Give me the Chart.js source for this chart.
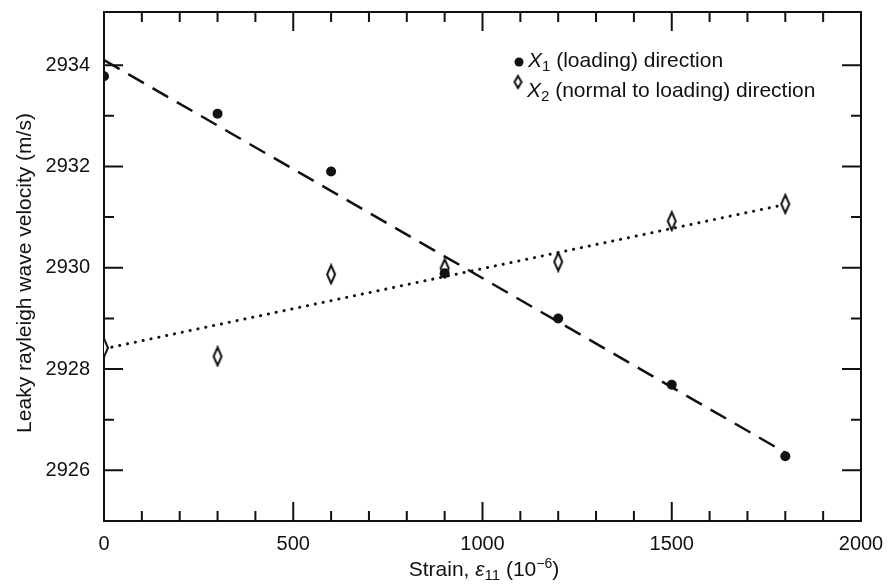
<!DOCTYPE html>
<html>
<head>
    <title>Leaky Rayleigh wave velocity vs strain</title>
    <script src="https://cdn.jsdelivr.net/npm/chart.js@4/dist/chart.umd.min.js"></script>
    <style>
        body {
            margin: 0;
            padding: 0;
            background-color: #ffffff;
        }
        .chart-container {
            width: 891px;
            height: 584px;
        }
    </style>
</head>
<body>
    <div class="chart-container">
        <canvas id="strainChart" width="891" height="584"></canvas>
    </div>

    <script>
        // Measured points (strain in 10^-6, velocity in m/s)
        const strain = [0, 300, 600, 900, 1200, 1500, 1800];
        const x1Velocity = [2933.78, 2933.04, 2931.90, 2929.89, 2929.00, 2927.69, 2926.28];
        const x2Velocity = [2928.42, 2928.25, 2929.87, 2929.99, 2930.12, 2930.92, 2931.26];

        // Fitted lines, end points
        const fitStrain = [0, 1800];
        const x1Fit = [2934.1, 2926.35];
        const x2Fit = [2928.4, 2931.25];

        // Axis ticks
        const xTicks = [0, 500, 1000, 1500, 2000];
        const yTicks = [2926, 2928, 2930, 2932, 2934];
        const xRange = [0, 2000];
        const yRange = [2925, 2935.05];

        const FONT = "'Liberation Sans', Arial, Helvetica, sans-serif";
        Chart.defaults.font.family = FONT;
        Chart.defaults.color = '#111';

        function toPoints(xs, ys) {
            return xs.map((x, i) => ({ x: x, y: ys[i] }));
        }

        // narrow open diamond used for the X2 markers
        function makeDiamond(w, h, lw) {
            const c = document.createElement('canvas');
            c.width = w + 4;
            c.height = h + 4;
            const g = c.getContext('2d');
            const cx = c.width / 2, cy = c.height / 2;
            g.beginPath();
            g.moveTo(cx, cy - h / 2);
            g.lineTo(cx + w / 2, cy);
            g.lineTo(cx, cy + h / 2);
            g.lineTo(cx - w / 2, cy);
            g.closePath();
            g.fillStyle = '#fff';
            g.fill();
            g.lineWidth = lw;
            g.strokeStyle = '#111';
            g.stroke();
            return c;
        }
        const diamond = makeDiamond(8, 18, 2);

        // draws text made of pieces with their own font / vertical shift
        function richText(ctx, pieces, x, y, align) {
            let total = 0;
            pieces.forEach(p => {
                ctx.font = p.font;
                total += ctx.measureText(p.text).width;
            });
            let cx = align === 'center' ? x - total / 2 : x;
            ctx.textAlign = 'left';
            ctx.textBaseline = 'alphabetic';
            pieces.forEach(p => {
                ctx.font = p.font;
                ctx.fillText(p.text, cx, y + (p.dy || 0));
                cx += ctx.measureText(p.text).width;
            });
        }

        const framePlugin = {
            id: 'frame',
            beforeDatasetsDraw(chart) {
                const ctx = chart.ctx;
                const a = chart.chartArea;
                const xs = chart.scales.x, ys = chart.scales.y;
                ctx.save();
                ctx.strokeStyle = '#111';
                ctx.lineWidth = 2;
                ctx.strokeRect(a.left, a.top, a.right - a.left, a.bottom - a.top);

                // inward ticks on all four sides
                ctx.beginPath();
                for (let v = xRange[0] + 100; v < xRange[1]; v += 100) {
                    const px = xs.getPixelForValue(v);
                    const len = v % 500 === 0 ? 19 : 10;
                    ctx.moveTo(px, a.bottom); ctx.lineTo(px, a.bottom - len);
                    ctx.moveTo(px, a.top); ctx.lineTo(px, a.top + len);
                }
                for (let v = 2926; v <= 2934; v += 1) {
                    const py = ys.getPixelForValue(v);
                    const len = v % 2 === 0 ? 19 : 10;
                    ctx.moveTo(a.left, py); ctx.lineTo(a.left + len, py);
                    ctx.moveTo(a.right, py); ctx.lineTo(a.right - len, py);
                }
                ctx.stroke();
                ctx.restore();
            },
            afterDraw(chart) {
                const ctx = chart.ctx;
                ctx.save();
                ctx.fillStyle = '#111';

                // y axis title
                ctx.save();
                ctx.translate(25, 273);
                ctx.rotate(-Math.PI / 2);
                ctx.font = '21px ' + FONT;
                ctx.textAlign = 'center';
                ctx.textBaseline = 'middle';
                ctx.fillText('Leaky rayleigh wave velocity (m/s)', 0, 0);
                ctx.restore();

                // x axis title
                richText(ctx, [
                    { text: 'Strain, ', font: '21px ' + FONT },
                    { text: 'ε', font: 'italic 21px ' + FONT },
                    { text: '11', font: '15px ' + FONT, dy: 4 },
                    { text: ' (10', font: '21px ' + FONT },
                    { text: '−6', font: '14px ' + FONT, dy: -8 },
                    { text: ')', font: '21px ' + FONT }
                ], 484, 576, 'center');

                // legend
                ctx.beginPath();
                ctx.arc(519, 62, 4.5, 0, Math.PI * 2);
                ctx.fill();
                const small = makeDiamond(7, 12, 2);
                ctx.drawImage(small, 518 - small.width / 2, 82 - small.height / 2);

                richText(ctx, [
                    { text: 'X', font: 'italic 21px ' + FONT },
                    { text: '1', font: '15px ' + FONT, dy: 4 },
                    { text: ' (loading) direction', font: '21px ' + FONT }
                ], 528, 67, 'left');
                richText(ctx, [
                    { text: 'X', font: 'italic 21px ' + FONT },
                    { text: '2', font: '15px ' + FONT, dy: 4 },
                    { text: ' (normal to loading) direction', font: '21px ' + FONT }
                ], 527, 97, 'left');
                ctx.restore();
            }
        };

        const ctx = document.getElementById('strainChart').getContext('2d');
        const strainChart = new Chart(ctx, {
            type: 'scatter',
            data: {
                datasets: [
                    {
                        label: 'X1 (loading) direction',
                        data: toPoints(strain, x1Velocity),
                        pointStyle: 'circle',
                        pointRadius: 5,
                        backgroundColor: '#111',
                        borderColor: '#111',
                        borderWidth: 0,
                        order: 0
                    },
                    {
                        label: 'X2 (normal to loading) direction',
                        data: toPoints(strain, x2Velocity),
                        pointStyle: diamond,
                        order: 0
                    },
                    {
                        label: 'X1 fit',
                        data: toPoints(fitStrain, x1Fit),
                        showLine: true,
                        pointRadius: 0,
                        borderColor: '#111',
                        borderWidth: 2.5,
                        borderDash: [18, 10],
                        order: 1
                    },
                    {
                        label: 'X2 fit',
                        data: toPoints(fitStrain, x2Fit),
                        showLine: true,
                        pointRadius: 0,
                        borderColor: '#111',
                        borderWidth: 3,
                        borderCapStyle: 'round',
                        borderDash: [0.1, 7.9],
                        order: 1
                    }
                ]
            },
            options: {
                responsive: false,
                animation: false,
                events: [],
                layout: {
                    padding: { top: 12, right: 30, left: 0, bottom: 0 }
                },
                plugins: {
                    legend: { display: false },
                    tooltip: { enabled: false }
                },
                scales: {
                    x: {
                        type: 'linear',
                        min: xRange[0],
                        max: xRange[1],
                        grid: { display: false, drawTicks: false },
                        border: { display: false },
                        afterBuildTicks: s => { s.ticks = xTicks.map(v => ({ value: v })); },
                        afterFit: s => {
                            s.height = 63;
                            s.paddingLeft = 0;
                            s.paddingRight = 0;
                        },
                        ticks: {
                            autoSkip: false,
                            maxRotation: 0,
                            padding: 11,
                            color: '#111',
                            font: { size: 20 },
                            callback: v => String(v)
                        }
                    },
                    y: {
                        type: 'linear',
                        min: yRange[0],
                        max: yRange[1],
                        grid: { display: false, drawTicks: false },
                        border: { display: false },
                        afterBuildTicks: s => { s.ticks = yTicks.map(v => ({ value: v })); },
                        afterFit: s => {
                            s.width = 104;
                            s.paddingTop = 0;
                            s.paddingBottom = 0;
                        },
                        ticks: {
                            padding: 14,
                            color: '#111',
                            font: { size: 20 },
                            callback: v => String(v)
                        }
                    }
                }
            },
            plugins: [framePlugin]
        });
    </script>
</body>
</html>
